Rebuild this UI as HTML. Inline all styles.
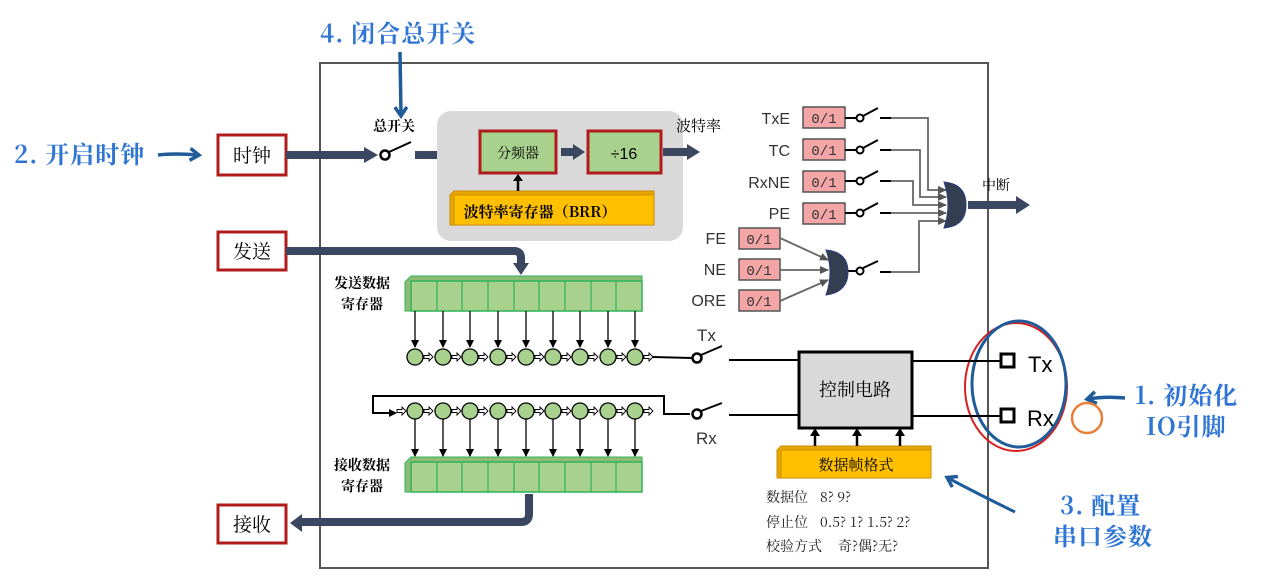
<!DOCTYPE html>
<html><head><meta charset="utf-8"><style>
html,body{margin:0;padding:0;background:#fff;}
svg{display:block;font-family:"Liberation Sans","Noto Sans CJK SC",sans-serif;}
.s{font-family:"Noto Serif CJK SC","Liberation Serif",serif;}
.a{font-family:"Noto Serif CJK SC","Liberation Serif",serif;font-weight:bold;letter-spacing:1px;}
</style></head><body>
<svg width="1281" height="582" viewBox="0 0 1281 582" xmlns="http://www.w3.org/2000/svg">
<defs>
<marker id="ah" markerWidth="8" markerHeight="8" refX="7" refY="4" orient="auto" markerUnits="userSpaceOnUse"><path d="M0,0 L8,4 L0,8 Z" fill="#000"/></marker>
<marker id="ag" markerWidth="9" markerHeight="8" refX="8" refY="4" orient="auto" markerUnits="userSpaceOnUse"><path d="M0,0 L9,4 L0,8 Z" fill="#555"/></marker>
<marker id="ab" markerWidth="16" markerHeight="16" refX="10" refY="8" orient="auto" markerUnits="userSpaceOnUse"><path d="M2,2 L11,8 L2,14" fill="none" stroke="#1f5c99" stroke-width="3.5"/></marker>
</defs>
<rect x="320" y="63" width="668" height="505" fill="none" stroke="#555" stroke-width="2"/>
<text x="320" y="42" font-size="24" fill="#2e75d6" class="a">4. 闭合总开关</text>
<path d="M400,52 L401,115" stroke="#1f5c99" stroke-width="3.5" fill="none" marker-end="url(#ab)"/>
<text x="14" y="163" font-size="24" fill="#2e75d6" class="a">2. 开启时钟</text>
<path d="M158,155 Q175,153 198,155" stroke="#1f5c99" stroke-width="3.5" fill="none" marker-end="url(#ab)"/>
<text x="1135" y="404" font-size="24" fill="#2e75d6" class="a">1. 初始化</text>
<text x="1146" y="435" font-size="24" fill="#2e75d6" class="a">IO引脚</text>
<path d="M1125,398 Q1105,396 1088,399" stroke="#1f5c99" stroke-width="3.5" fill="none" marker-end="url(#ab)"/>
<text x="1060" y="514" font-size="24" fill="#2e75d6" class="a">3. 配置</text>
<text x="1053" y="545" font-size="24" fill="#2e75d6" class="a">串口参数</text>
<path d="M1015,512 Q980,495 948,478" stroke="#1f5c99" stroke-width="3" fill="none" marker-end="url(#ab)"/>
<ellipse cx="1016" cy="387" rx="51" ry="64" fill="none" stroke="#d62020" stroke-width="2"/>
<ellipse cx="1019" cy="384" rx="47" ry="63" fill="none" stroke="#1f5c99" stroke-width="3"/>
<circle cx="1087" cy="418" r="15" fill="none" stroke="#e8803a" stroke-width="2.5"/>
<rect x="218" y="135" width="68" height="40" fill="#fff" stroke="#b01c1c" stroke-width="3"/>
<text x="252" y="162" font-size="19" text-anchor="middle" class="s">时钟</text>
<rect x="218" y="232" width="68" height="38" fill="#fff" stroke="#b01c1c" stroke-width="3"/>
<text x="252" y="258" font-size="19" text-anchor="middle" class="s">发送</text>
<rect x="218" y="505" width="68" height="38" fill="#fff" stroke="#b01c1c" stroke-width="3"/>
<text x="252" y="531" font-size="19" text-anchor="middle" class="s">接收</text>
<rect x="286" y="151" width="80" height="8" fill="#3b4660"/>
<path d="M364,147 L378,155 L364,163Z" fill="#3b4660"/>
<circle cx="385" cy="155" r="4.5" fill="#fff" stroke="#000" stroke-width="2.5"/>
<line x1="389" y1="152" x2="411" y2="142" stroke="#000" stroke-width="2"/>
<text x="394" y="131" font-size="14" font-weight="bold" text-anchor="middle" class="s">总开关</text>
<rect x="415" y="151" width="52" height="8" fill="#3b4660"/>
<path d="M465,146 L478,155 L465,164Z" fill="#3b4660"/>
<rect x="437" y="111" width="246" height="130" rx="14" fill="#d9d9d9"/>
<rect x="480" y="131" width="76" height="42" fill="#a9d18e" stroke="#b01c1c" stroke-width="3"/>
<text x="518" y="158" font-size="14" text-anchor="middle" class="s">分频器</text>
<rect x="561" y="148" width="14" height="8" fill="#3b4660"/>
<path d="M573,144 L585,152 L573,160Z" fill="#3b4660"/>
<rect x="588" y="131" width="73" height="42" fill="#a9d18e" stroke="#b01c1c" stroke-width="3"/>
<text x="624" y="159" font-size="16" text-anchor="middle">÷16</text>
<rect x="663" y="148" width="26" height="8" fill="#3b4660"/>
<path d="M687,144 L700,152 L687,160Z" fill="#3b4660"/>
<text x="676" y="131" font-size="15" class="s">波特率</text>
<path d="M450,195 L454,191 L654,191 L654,221 L650,225 L450,225Z" fill="#e5a800" stroke="#d08a00"/>
<rect x="454" y="195" width="200" height="30" fill="#ffc000" stroke="#d08a00"/>
<text x="540" y="217" font-size="15" font-weight="bold" text-anchor="middle" class="s">波特率寄存器（BRR）</text>
<line x1="518" y1="191" x2="518" y2="179" stroke="#000" stroke-width="2.5"/>
<path d="M513,181 L518,174 L523,181Z" fill="#000"/>
<path d="M286,251 L514,251 Q521,251 521,258 L521,264" stroke="#3b4660" stroke-width="8" fill="none"/>
<path d="M513,263 L529,263 L521,275Z" fill="#3b4660"/>
<text x="362" y="288" font-size="14" font-weight="bold" text-anchor="middle" class="s">发送数据</text>
<text x="362" y="309" font-size="14" font-weight="bold" text-anchor="middle" class="s">寄存器</text>
<path d="M405,282 L411,276 L642,276 L642,305 L636,311 L405,311Z" fill="#8fbc74" stroke="#2fb35a"/>
<rect x="411" y="281" width="231" height="30" fill="#a9d18e" stroke="#2fb35a" stroke-width="1.5"/>
<g stroke="#2fb35a" stroke-width="1.2">
<line x1="437" y1="281" x2="437" y2="311"/><line x1="462" y1="281" x2="462" y2="311"/><line x1="488" y1="281" x2="488" y2="311"/><line x1="514" y1="281" x2="514" y2="311"/><line x1="539" y1="281" x2="539" y2="311"/><line x1="565" y1="281" x2="565" y2="311"/><line x1="591" y1="281" x2="591" y2="311"/><line x1="616" y1="281" x2="616" y2="311"/>
</g>
<g stroke="#000" stroke-width="1.3" marker-end="url(#ah)">
<line x1="415" y1="311" x2="415" y2="347"/><line x1="443" y1="311" x2="443" y2="347"/><line x1="470" y1="311" x2="470" y2="347"/><line x1="498" y1="311" x2="498" y2="347"/><line x1="526" y1="311" x2="526" y2="347"/><line x1="553" y1="311" x2="553" y2="347"/><line x1="580" y1="311" x2="580" y2="347"/><line x1="608" y1="311" x2="608" y2="347"/><line x1="635" y1="311" x2="635" y2="347"/>
</g>
<g fill="#a9d18e" stroke="#000" stroke-width="1.3">
<circle cx="415" cy="357" r="8"/><circle cx="443" cy="357" r="8"/><circle cx="470" cy="357" r="8"/><circle cx="498" cy="357" r="8"/><circle cx="526" cy="357" r="8"/><circle cx="553" cy="357" r="8"/><circle cx="580" cy="357" r="8"/><circle cx="608" cy="357" r="8"/><circle cx="635" cy="357" r="8"/>
</g>
<g fill="#fff" stroke="#000" stroke-width="0.9">
<path d="M424,355.5h5v-2.5l4,4l-4,4v-2.5h-5z"/><path d="M452,355.5h5v-2.5l4,4l-4,4v-2.5h-5z"/><path d="M479,355.5h5v-2.5l4,4l-4,4v-2.5h-5z"/><path d="M507,355.5h5v-2.5l4,4l-4,4v-2.5h-5z"/><path d="M535,355.5h5v-2.5l4,4l-4,4v-2.5h-5z"/><path d="M562,355.5h5v-2.5l4,4l-4,4v-2.5h-5z"/><path d="M589,355.5h5v-2.5l4,4l-4,4v-2.5h-5z"/><path d="M617,355.5h5v-2.5l4,4l-4,4v-2.5h-5z"/><path d="M644,355.5h5v-2.5l4,4l-4,4v-2.5h-5z"/>
</g>
<line x1="653" y1="357" x2="692" y2="358" stroke="#000" stroke-width="2"/>
<circle cx="697" cy="358" r="4.5" fill="#fff" stroke="#000" stroke-width="2.5"/>
<line x1="701" y1="355" x2="722" y2="346" stroke="#000" stroke-width="2"/>
<text x="697" y="341" font-size="17" fill="#333">Tx</text>
<line x1="729" y1="360" x2="798" y2="360" stroke="#000" stroke-width="2"/>
<path d="M690,414 L664,414 L664,396 L373,396 L373,413 L392,413" stroke="#000" stroke-width="2" fill="none"/>
<path d="M389,409 L397,413 L389,417Z" fill="#000"/>
<g fill="#fff" stroke="#000" stroke-width="0.9">
<path d="M397,409.5h5v-2.5l4,4l-4,4v-2.5h-5z"/>
<path d="M424,409.5h5v-2.5l4,4l-4,4v-2.5h-5z"/><path d="M452,409.5h5v-2.5l4,4l-4,4v-2.5h-5z"/><path d="M479,409.5h5v-2.5l4,4l-4,4v-2.5h-5z"/><path d="M507,409.5h5v-2.5l4,4l-4,4v-2.5h-5z"/><path d="M535,409.5h5v-2.5l4,4l-4,4v-2.5h-5z"/><path d="M562,409.5h5v-2.5l4,4l-4,4v-2.5h-5z"/><path d="M589,409.5h5v-2.5l4,4l-4,4v-2.5h-5z"/><path d="M617,409.5h5v-2.5l4,4l-4,4v-2.5h-5z"/><path d="M644,409.5h5v-2.5l4,4l-4,4v-2.5h-5z"/>
</g>
<g fill="#a9d18e" stroke="#000" stroke-width="1.3">
<circle cx="415" cy="411" r="8"/><circle cx="443" cy="411" r="8"/><circle cx="470" cy="411" r="8"/><circle cx="498" cy="411" r="8"/><circle cx="526" cy="411" r="8"/><circle cx="553" cy="411" r="8"/><circle cx="580" cy="411" r="8"/><circle cx="608" cy="411" r="8"/><circle cx="635" cy="411" r="8"/>
</g>
<g stroke="#000" stroke-width="1.3" marker-end="url(#ah)">
<line x1="415" y1="419" x2="415" y2="456"/><line x1="443" y1="419" x2="443" y2="456"/><line x1="470" y1="419" x2="470" y2="456"/><line x1="498" y1="419" x2="498" y2="456"/><line x1="526" y1="419" x2="526" y2="456"/><line x1="553" y1="419" x2="553" y2="456"/><line x1="580" y1="419" x2="580" y2="456"/><line x1="608" y1="419" x2="608" y2="456"/><line x1="635" y1="419" x2="635" y2="456"/>
</g>
<circle cx="697" cy="414" r="4.5" fill="#fff" stroke="#000" stroke-width="2.5"/>
<line x1="701" y1="411" x2="722" y2="403" stroke="#000" stroke-width="2"/>
<text x="696" y="444" font-size="17" fill="#333">Rx</text>
<line x1="729" y1="415" x2="798" y2="415" stroke="#000" stroke-width="2"/>
<text x="362" y="470" font-size="14" font-weight="bold" text-anchor="middle" class="s">接收数据</text>
<text x="362" y="491" font-size="14" font-weight="bold" text-anchor="middle" class="s">寄存器</text>
<path d="M405,463 L411,457 L642,457 L642,486 L636,492 L405,492Z" fill="#8fbc74" stroke="#2fb35a"/>
<rect x="411" y="462" width="231" height="30" fill="#a9d18e" stroke="#2fb35a" stroke-width="1.5"/>
<g stroke="#2fb35a" stroke-width="1.2">
<line x1="437" y1="462" x2="437" y2="492"/><line x1="462" y1="462" x2="462" y2="492"/><line x1="488" y1="462" x2="488" y2="492"/><line x1="514" y1="462" x2="514" y2="492"/><line x1="539" y1="462" x2="539" y2="492"/><line x1="565" y1="462" x2="565" y2="492"/><line x1="591" y1="462" x2="591" y2="492"/><line x1="616" y1="462" x2="616" y2="492"/>
</g>
<path d="M529,494 L529,514 Q529,522 521,522 L300,522" stroke="#3b4660" stroke-width="8" fill="none"/>
<path d="M302,514 L290,523 L302,532Z" fill="#3b4660"/>
<rect x="799" y="352" width="113" height="76" fill="#d9d9d9" stroke="#000" stroke-width="3"/>
<text x="855" y="396" font-size="18" text-anchor="middle" class="s">控制电路</text>
<line x1="912" y1="361" x2="1000" y2="361" stroke="#000" stroke-width="2"/>
<line x1="912" y1="416" x2="1000" y2="416" stroke="#000" stroke-width="2"/>
<rect x="1001" y="354" width="13" height="13" fill="#fff" stroke="#000" stroke-width="3"/>
<rect x="1001" y="409" width="13" height="13" fill="#fff" stroke="#000" stroke-width="3"/>
<text x="1028" y="372" font-size="22">Tx</text>
<text x="1027" y="426" font-size="22">Rx</text>
<path d="M777,450 L781,446 L931,446 L931,474 L927,478 L777,478Z" fill="#e5a800" stroke="#d08a00"/>
<rect x="781" y="450" width="150" height="28" fill="#ffc000" stroke="#d08a00"/>
<text x="856" y="470" font-size="15" text-anchor="middle" class="s">数据帧格式</text>
<g stroke="#000" stroke-width="2.5"><line x1="815" y1="446" x2="815" y2="434"/><line x1="857" y1="446" x2="857" y2="434"/><line x1="900" y1="446" x2="900" y2="434"/></g>
<path d="M810,436 L815,428 L820,436Z M852,436 L857,428 L862,436Z M895,436 L900,428 L905,436Z" fill="#000"/>
<g font-size="14" class="s" fill="#222">
<text x="766" y="502">数据位</text><text x="820" y="502">8? 9?</text>
<text x="766" y="527">停止位</text><text x="820" y="527">0.5? 1? 1.5? 2?</text>
<text x="766" y="551">校验方式</text><text x="838" y="551">奇?偶?无?</text>
</g>
<g font-size="16" fill="#333" text-anchor="end">
<text x="790" y="124">TxE</text><text x="790" y="156">TC</text><text x="790" y="188">RxNE</text><text x="790" y="219">PE</text>
<text x="726" y="244">FE</text><text x="726" y="275">NE</text><text x="726" y="306">ORE</text>
</g>
<g fill="#f4a6a6" stroke="#555" stroke-width="1.5">
<rect x="803" y="107" width="42" height="21"/><rect x="803" y="139" width="42" height="21"/><rect x="803" y="171" width="42" height="21"/><rect x="803" y="203" width="42" height="21"/>
<rect x="739" y="228" width="41" height="21"/><rect x="739" y="259" width="41" height="21"/><rect x="739" y="290" width="41" height="21"/>
</g>
<g font-size="14" font-family="Liberation Mono,monospace" fill="#333" text-anchor="middle">
<text x="824" y="123">0/1</text><text x="824" y="155">0/1</text><text x="824" y="187">0/1</text><text x="824" y="219">0/1</text>
<text x="759" y="244">0/1</text><text x="759" y="275">0/1</text><text x="759" y="306">0/1</text>
</g>
<g stroke="#000" stroke-width="2" fill="#fff">
<line x1="845" y1="118" x2="857" y2="118"/><line x1="845" y1="150" x2="857" y2="150"/><line x1="845" y1="181" x2="857" y2="181"/><line x1="845" y1="213" x2="857" y2="213"/>
<line x1="863" y1="116" x2="878" y2="108"/><line x1="863" y1="148" x2="878" y2="140"/><line x1="863" y1="179" x2="878" y2="171"/><line x1="863" y1="211" x2="878" y2="203"/><line x1="863" y1="268" x2="878" y2="261"/>
<line x1="880" y1="118" x2="891" y2="118"/><line x1="880" y1="150" x2="891" y2="150"/><line x1="880" y1="181" x2="891" y2="181"/><line x1="880" y1="213" x2="891" y2="213"/><line x1="880" y1="272" x2="891" y2="272"/>
<line x1="847" y1="271" x2="857" y2="271"/>
<circle cx="860" cy="118" r="3.5"/><circle cx="860" cy="150" r="3.5"/><circle cx="860" cy="181" r="3.5"/><circle cx="860" cy="213" r="3.5"/><circle cx="860" cy="271" r="3.5"/>
</g>
<g stroke="#666" stroke-width="1.8" fill="none" marker-end="url(#ag)">
<path d="M891,118 L928,118 L928,190 L946,190"/>
<path d="M891,150 L920,150 L920,197 L946,197"/>
<path d="M891,181 L913,181 L913,205 L946,205"/>
<path d="M891,213 L946,213"/>
<path d="M891,272 L919,272 L919,221 L946,221"/>
<path d="M780,238 L828,260"/>
<path d="M780,270 L828,270"/>
<path d="M780,301 L828,280"/>
</g>
<path d="M944,182 Q966,184 966,205 Q966,226 944,228 Q952,205 944,182Z" fill="#333f50" stroke="#2a3a80"/>
<path d="M826,250 Q848,252 848,272 Q848,292 826,295 Q834,272 826,250Z" fill="#333f50" stroke="#2a3a80"/>
<rect x="968" y="201" width="50" height="8" fill="#3b4660"/>
<path d="M1016,196 L1030,205 L1016,214Z" fill="#3b4660"/>
<text x="982" y="190" font-size="14" class="s">中断</text>
</svg>
</body></html>
